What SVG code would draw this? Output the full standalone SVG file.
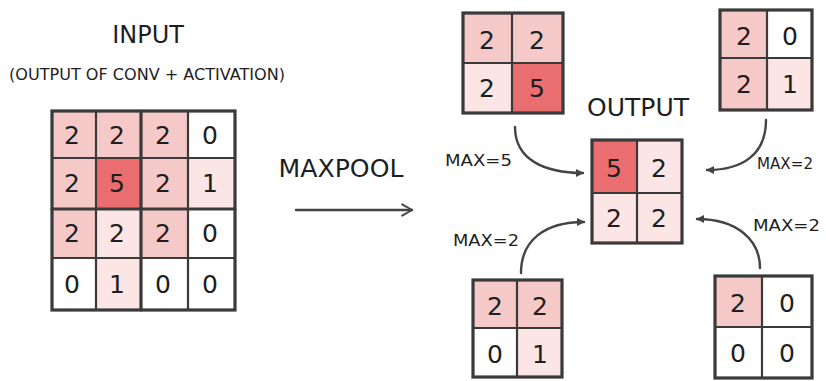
<svg xmlns="http://www.w3.org/2000/svg" width="826" height="381" viewBox="0 0 826 381">
<defs>
<style>
.t{font-family:"DejaVu Sans","Liberation Sans",sans-serif;fill:#1e1e1e;}
.title{font-size:24px;}
.sub{font-size:15px;}
.lbl{font-size:16px;}
.num{font-size:25px;text-anchor:middle;dominant-baseline:central;font-family:"DejaVu Sans","Liberation Sans",sans-serif;fill:#1e1e1e;}
.p{fill:#f6c9c9;}
.l{fill:#fbe5e5;}
.w{fill:#ffffff;}
.r{fill:#ea6e70;}
.g{fill:none;stroke:#3a3a3a;stroke-width:2.2;stroke-linecap:round;}
.gb{fill:none;stroke:#3a3a3a;stroke-width:3.2;stroke-linecap:round;}
.c{fill:none;stroke:#444;stroke-width:2.4;stroke-linecap:round;}
</style>
<marker id="ah2" viewBox="0 0 10 10" refX="9" refY="5" markerWidth="14" markerHeight="14" orient="auto" markerUnits="userSpaceOnUse">
<path d="M2,1 L9,5 L2,9" fill="none" stroke="#444" stroke-width="1.4" stroke-linecap="round" stroke-linejoin="round"/>
</marker>
<marker id="ah3" viewBox="0 0 10 10" refX="7" refY="5" markerWidth="10" markerHeight="10" orient="auto" markerUnits="userSpaceOnUse">
<path d="M0,1 L8,5 L0,9 Z" fill="#444"/>
</marker>
</defs>

<g id="input-title">
<text class="t title" x="148" y="43" text-anchor="middle">INPUT</text>
<text class="t sub" x="147" y="80" text-anchor="middle" textLength="276" lengthAdjust="spacingAndGlyphs">(OUTPUT OF CONV + ACTIVATION)</text>
</g>

<g id="input-grid">
<rect class="p" x="52" y="111" width="44" height="47"/>
<rect class="p" x="96" y="111" width="45" height="47"/>
<rect class="p" x="141" y="111" width="47" height="47"/>
<rect class="w" x="188" y="111" width="47" height="47"/>
<rect class="p" x="52" y="158" width="44" height="51"/>
<rect class="r" x="96" y="158" width="45" height="51"/>
<rect class="p" x="141" y="158" width="47" height="51"/>
<rect class="l" x="188" y="158" width="47" height="51"/>
<rect class="p" x="52" y="209" width="44" height="49"/>
<rect class="l" x="96" y="209" width="45" height="49"/>
<rect class="p" x="141" y="209" width="47" height="49"/>
<rect class="w" x="188" y="209" width="47" height="49"/>
<rect class="w" x="52" y="258" width="44" height="52"/>
<rect class="l" x="96" y="258" width="45" height="52"/>
<rect class="w" x="141" y="258" width="47" height="52"/>
<rect class="w" x="188" y="258" width="47" height="52"/>
<line class="g" x1="96" y1="111" x2="96" y2="310"/>
<line class="g" x1="188" y1="111" x2="188" y2="310"/>
<line class="g" x1="52" y1="158" x2="235" y2="158"/>
<line class="g" x1="52" y1="258" x2="235" y2="258"/>
<line class="gb" x1="141" y1="111" x2="141" y2="310"/>
<line class="gb" x1="52" y1="209" x2="235" y2="209"/>
<rect class="gb" x="52" y="111" width="183" height="199"/>
<text class="num" x="72" y="135">2</text>
<text class="num" x="117" y="135">2</text>
<text class="num" x="163" y="135">2</text>
<text class="num" x="210" y="135">0</text>
<text class="num" x="72" y="183">2</text>
<text class="num" x="117" y="183">5</text>
<text class="num" x="163" y="183">2</text>
<text class="num" x="210" y="183">1</text>
<text class="num" x="72" y="233">2</text>
<text class="num" x="117" y="233">2</text>
<text class="num" x="163" y="233">2</text>
<text class="num" x="210" y="233">0</text>
<text class="num" x="72" y="284">0</text>
<text class="num" x="117" y="284">1</text>
<text class="num" x="163" y="284">0</text>
<text class="num" x="210" y="284">0</text>
</g>

<g id="maxpool-label">
<text class="t title" x="341" y="177" text-anchor="middle" textLength="125" lengthAdjust="spacingAndGlyphs">MAXPOOL</text>
</g>

<g id="block-tl">
<rect class="p" x="463" y="13" width="49" height="50"/>
<rect class="p" x="512" y="13" width="51" height="50"/>
<rect class="l" x="463" y="63" width="49" height="50"/>
<rect class="r" x="512" y="63" width="51" height="50"/>
<line class="g" x1="512" y1="13" x2="512" y2="113"/>
<line class="g" x1="463" y1="63" x2="563" y2="63"/>
<rect class="gb" x="463" y="13" width="100" height="100"/>
<text class="num" x="487" y="40">2</text>
<text class="num" x="537" y="40">2</text>
<text class="num" x="487" y="88">2</text>
<text class="num" x="537" y="88">5</text>
</g>

<g id="block-tr">
<rect class="p" x="720" y="10" width="47" height="48"/>
<rect class="w" x="767" y="10" width="45" height="48"/>
<rect class="p" x="720" y="58" width="47" height="52"/>
<rect class="l" x="767" y="58" width="45" height="52"/>
<line class="g" x1="767" y1="10" x2="767" y2="110"/>
<line class="g" x1="720" y1="58" x2="812" y2="58"/>
<rect class="gb" x="720" y="10" width="92" height="100"/>
<text class="num" x="744" y="36">2</text>
<text class="num" x="790" y="36">0</text>
<text class="num" x="744" y="84">2</text>
<text class="num" x="790" y="84">1</text>
</g>

<g id="output">
<text class="t title" x="638" y="116" text-anchor="middle" textLength="102" lengthAdjust="spacingAndGlyphs">OUTPUT</text>
<rect class="r" x="592" y="140" width="45" height="53"/>
<rect class="l" x="637" y="140" width="45" height="53"/>
<rect class="l" x="592" y="193" width="45" height="50"/>
<rect class="l" x="637" y="193" width="45" height="50"/>
<line class="g" x1="637" y1="140" x2="637" y2="243"/>
<line class="g" x1="592" y1="193" x2="682" y2="193"/>
<rect class="gb" x="592" y="140" width="90" height="103"/>
<text class="num" x="614" y="168">5</text>
<text class="num" x="659" y="168">2</text>
<text class="num" x="614" y="218">2</text>
<text class="num" x="659" y="218">2</text>
</g>

<g id="block-bl">
<rect class="p" x="473" y="280" width="44" height="48"/>
<rect class="p" x="517" y="280" width="45" height="48"/>
<rect class="w" x="473" y="328" width="44" height="49"/>
<rect class="l" x="517" y="328" width="45" height="49"/>
<line class="g" x1="517" y1="280" x2="517" y2="377"/>
<line class="g" x1="473" y1="328" x2="562" y2="328"/>
<rect class="gb" x="473" y="280" width="89" height="97"/>
<text class="num" x="495" y="306">2</text>
<text class="num" x="540" y="306">2</text>
<text class="num" x="495" y="354">0</text>
<text class="num" x="540" y="354">1</text>
</g>

<g id="block-br">
<rect class="p" x="715" y="276" width="47" height="51"/>
<rect class="w" x="762" y="276" width="50" height="51"/>
<rect class="w" x="715" y="327" width="47" height="51"/>
<rect class="w" x="762" y="327" width="50" height="51"/>
<line class="g" x1="762" y1="276" x2="762" y2="378"/>
<line class="g" x1="715" y1="327" x2="812" y2="327"/>
<rect class="gb" x="715" y="276" width="97" height="102"/>
<text class="num" x="738" y="303">2</text>
<text class="num" x="787" y="303">0</text>
<text class="num" x="738" y="353">0</text>
<text class="num" x="787" y="353">0</text>
</g>

<g id="connectors">
<line class="c" x1="296" y1="210" x2="412" y2="210" marker-end="url(#ah2)"/>
<path class="c" d="M515,127 C515,160 545,173 583,173" marker-end="url(#ah3)"/>
<path class="c" d="M766,120 C766,155 742,170 707,170" marker-end="url(#ah3)"/>
<path class="c" d="M521,273 C521,240 545,222 584,222" marker-end="url(#ah3)"/>
<path class="c" d="M760,268 C760,240 737,219 697,219" marker-end="url(#ah3)"/>
<text class="t lbl" x="445" y="166" textLength="67" lengthAdjust="spacingAndGlyphs">MAX=5</text>
<text class="t lbl" x="757" y="169" textLength="56" lengthAdjust="spacingAndGlyphs">MAX=2</text>
<text class="t lbl" x="453" y="246" textLength="66" lengthAdjust="spacingAndGlyphs">MAX=2</text>
<text class="t lbl" x="753" y="231" textLength="67" lengthAdjust="spacingAndGlyphs">MAX=2</text>
</g>
</svg>
